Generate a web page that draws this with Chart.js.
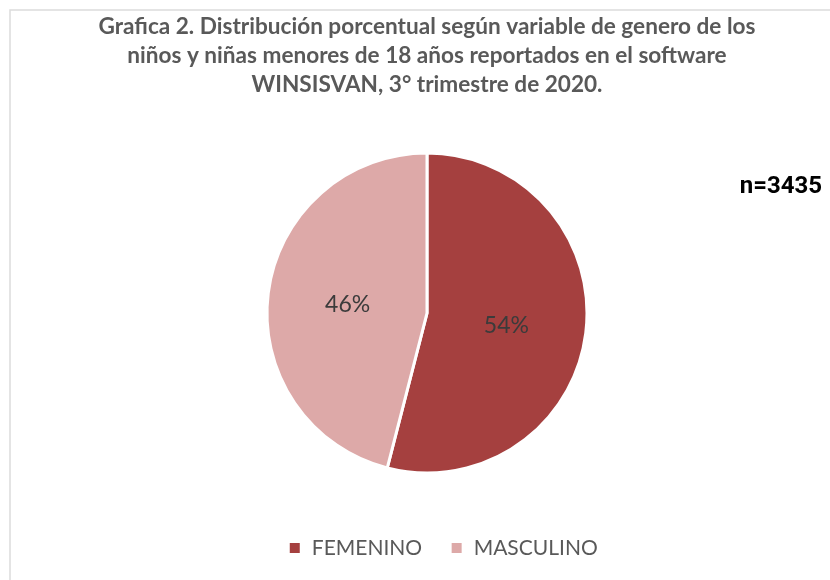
<!DOCTYPE html>
<html>
<head>
<meta charset="utf-8">
<script src="https://cdn.jsdelivr.net/npm/chart.js@4/dist/chart.umd.min.js"></script>
<style>
  html, body { margin: 0; padding: 0; background: #ffffff; }
  #wrap { width: 830px; height: 580px; position: relative; }
</style>
</head>
<body>
<div id="wrap"><canvas id="c" width="830" height="580"></canvas></div>
<script>
const categories = ["FEMENINO", "MASCULINO"];
const percentages = [54, 46];
const sliceColors = ["#A5403F", "#DDA9A8"];
const titleLines = [
  "Grafica 2. Distribución porcentual según variable de genero de los",
  "niños y niñas menores de 18 años reportados en el software",
  "WINSISVAN, 3° trimestre de 2020."
];
const sampleNote = "n=3435";

const framePlugin = {
  id: "frame",
  beforeDraw(chart) {
    const ctx = chart.ctx;
    ctx.save();
    ctx.fillStyle = "#ffffff";
    ctx.fillRect(0, 0, chart.width, chart.height);
    ctx.strokeStyle = "#dcdcdc";
    ctx.lineWidth = 1.5;
    ctx.beginPath();
    ctx.moveTo(10, chart.height);
    ctx.lineTo(10, 10);
    ctx.lineTo(chart.width, 10);
    ctx.stroke();
    ctx.restore();
  }
};

// nudge the legend to the right, as in the original layout
const legendShiftPlugin = {
  id: "legendShift",
  afterLayout(chart) {
    if (chart.legend) {
      chart.legend.left += 16;
      chart.legend.right += 16;
    }
  }
};

const labelPlugin = {
  id: "sliceLabels",
  afterDatasetsDraw(chart) {
    const ctx = chart.ctx;
    const meta = chart.getDatasetMeta(0);
    ctx.save();
    ctx.font = "23px Lato, 'Open Sans', sans-serif";
    ctx.fillStyle = "#3b3b3b";
    ctx.textAlign = "center";
    ctx.textBaseline = "middle";
    meta.data.forEach((arc, i) => {
      const p = arc.tooltipPosition();
      ctx.fillText(percentages[i] + "%", p.x, p.y + 2);
    });
    // sample size note
    ctx.font = "bold 24px Roboto, 'Liberation Sans', sans-serif";
    ctx.fillStyle = "#000000";
    ctx.textAlign = "right";
    ctx.fillText(sampleNote, chart.width - 8, 187);
    ctx.restore();
  }
};

new Chart(document.getElementById("c"), {
  type: "pie",
  data: {
    labels: categories,
    datasets: [{
      data: percentages,
      backgroundColor: sliceColors,
      borderColor: "#ffffff",
      borderWidth: 3,
      radius: 160
    }]
  },
  options: {
    responsive: false,
    animation: false,
    devicePixelRatio: 1,
    layout: { padding: { left: 24, right: 0, top: 0, bottom: 11.5 } },
    plugins: {
      tooltip: { enabled: false },
      title: {
        display: true,
        text: titleLines,
        color: "#595959",
        font: { family: "Lato, 'Open Sans', sans-serif", size: 22.6, weight: "bold", lineHeight: 1.285 },
        padding: { top: 12.5, bottom: 17 }
      },
      legend: {
        display: true,
        position: "bottom",
        labels: {
          color: "#595959",
          font: { family: "Lato, 'Open Sans', sans-serif", size: 21 },
          boxWidth: 13,
          boxHeight: 13,
          padding: 28
        }
      }
    }
  },
  plugins: [framePlugin, legendShiftPlugin, labelPlugin]
});
</script>
</body>
</html>
